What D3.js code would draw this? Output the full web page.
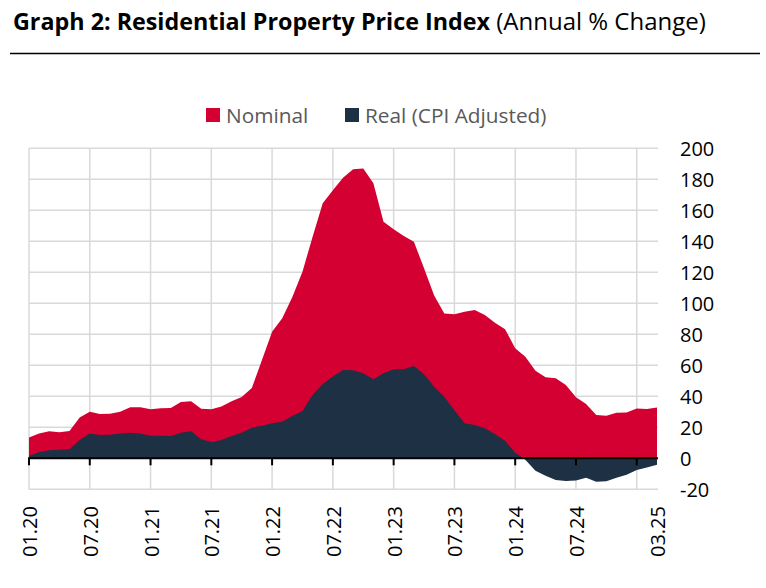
<!DOCTYPE html>
<html>
<head>
<meta charset="utf-8">
<script src="https://cdn.jsdelivr.net/npm/d3@7"></script>
<style>
  html, body { margin: 0; padding: 0; background: #fff; }
  svg { display: block; }
  text { font-family: "Open Sans", "Noto Sans", sans-serif; }
</style>
</head>
<body>
<div id="chart"></div>
<script>
// Monthly observations, 01.20 .. 03.25
const months = [
    "01.20","02.20","03.20","04.20","05.20","06.20","07.20","08.20","09.20","10.20","11.20","12.20",
    "01.21","02.21","03.21","04.21","05.21","06.21","07.21","08.21","09.21","10.21","11.21","12.21",
    "01.22","02.22","03.22","04.22","05.22","06.22","07.22","08.22","09.22","10.22","11.22","12.22",
    "01.23","02.23","03.23","04.23","05.23","06.23","07.23","08.23","09.23","10.23","11.23","12.23",
    "01.24","02.24","03.24","04.24","05.24","06.24","07.24","08.24","09.24","10.24","11.24","12.24",
    "01.25","02.25","03.25"
];

const nominal = [
    13.5, 16, 17.4, 16.8, 17.6, 26.4, 30, 28.6, 28.8, 30, 33, 33,
    31.6, 32.3, 32.5, 36.3, 36.8, 31.9, 31.6, 33.5, 36.8, 39.6, 45.3, 63.4,
    81.7, 90.3, 104, 120.4, 143, 164.5, 173, 181, 186.5, 187, 177.4, 152.6,
    147.7, 143.4, 139.7, 122.6, 105, 93.5, 92.9, 94.6, 95.7, 92.5, 87.5, 83.2,
    71, 65.5, 56.5, 52.3, 51.6, 47.3, 39.4, 35, 27.9, 27.5, 29.4, 29.6,
    32.2, 31.8, 32.7
];

const real = [
    1.5, 4, 5.2, 5.5, 5.8, 11.8, 16, 15, 15.2, 16, 16.5, 16,
    14.6, 14.6, 14.4, 16.5, 17.4, 12.3, 10.5, 11.8, 14.4, 16.5, 19.7, 21,
    22.6, 23.6, 27.3, 30.5, 40.8, 48, 52.7, 57, 56.8, 54.8, 51, 54.8,
    57.4, 57.4, 59.5, 54.2, 46.2, 39.7, 31, 22.6, 21.5, 19.4, 15.7, 11.4,
    3.6, -1, -8, -11.2, -14, -14.6, -14.4, -12.5, -15.1, -14.8, -12.5, -10.6,
    -7.5, -6, -4.1
];

const gridMonths = ["01.20","07.20","01.21","07.21","01.22","07.22","01.23","07.23","01.24","07.24","01.25"];
const labelMonths = ["01.20","07.20","01.21","07.21","01.22","07.22","01.23","07.23","01.24","07.24","03.25"];
const yTicks = [-20, 0, 20, 40, 60, 80, 100, 120, 140, 160, 180, 200];

const seriesNames = ["Nominal", "Real (CPI Adjusted)"];
const seriesColors = ["#d50032", "#1d3044"];

const width = 766;
const height = 588;
const marginLeft = 29;
const marginRight = 109;
const yTop = 148.3;
const yBottom = 489.3;

const svg = d3.select("#chart")
    .append("svg")
    .attr("width", width)
    .attr("height", height)
    .attr("viewBox", [0, 0, width, height]);

// Title and rule.
const title = svg.append("text")
    .attr("x", 13)
    .attr("y", 29.5)
    .attr("fill", "#000");
title.append("tspan").attr("font-weight", "bold").attr("font-size", 23.3).text("Graph 2: Residential Property Price Index");
title.append("tspan").attr("font-size", 24).text(" (Annual % Change)");

svg.append("line")
    .attr("x1", 10).attr("x2", 760)
    .attr("y1", 53.5).attr("y2", 53.5)
    .attr("stroke", "#000")
    .attr("stroke-width", 1.5);

// Scales.
const x = d3.scalePoint(months, [marginLeft, width - marginRight]);
const y = d3.scaleLinear([-20, 200], [yBottom, yTop]);

// Gridlines.
const grid = svg.append("g")
    .attr("stroke", "#d9d9d9")
    .attr("stroke-width", 1.5);
grid.selectAll(".h")
    .data(yTicks.filter(d => d !== 0))
    .join("line")
        .attr("x1", marginLeft).attr("x2", x("03.25") + 1)
        .attr("y1", d => y(d)).attr("y2", d => y(d));
grid.selectAll(".v")
    .data(gridMonths)
    .join("line")
        .attr("x1", d => x(d)).attr("x2", d => x(d))
        .attr("y1", yTop).attr("y2", yBottom);

// Areas.
const area = values => d3.area()
    .x((d, i) => x(months[i]))
    .y0(y(0))
    .y1(d => y(d))(values);

svg.append("path")
    .attr("d", area(nominal))
    .attr("fill", seriesColors[0]);
svg.append("path")
    .attr("d", area(real))
    .attr("fill", seriesColors[1]);

// Zero axis with ticks.
svg.append("line")
    .attr("x1", marginLeft - 1).attr("x2", x("03.25") + 1)
    .attr("y1", y(0)).attr("y2", y(0))
    .attr("stroke", "#000")
    .attr("stroke-width", 2);
svg.append("g")
    .selectAll("line")
    .data(gridMonths)
    .join("line")
        .attr("x1", d => x(d)).attr("x2", d => x(d))
        .attr("y1", y(0)).attr("y2", y(0) + 7)
        .attr("stroke", "#000")
        .attr("stroke-width", 2);

// Y labels on the right.
svg.append("g")
    .attr("font-size", 20)
    .attr("fill", "#000")
    .selectAll("text")
    .data(yTicks)
    .join("text")
        .attr("x", 680)
        .attr("y", d => y(d))
        .attr("dy", "0.36em")
        .text(d => d);

// X labels, rotated.
svg.append("g")
    .attr("font-size", 20)
    .attr("fill", "#000")
    .selectAll("text")
    .data(labelMonths)
    .join("text")
        .attr("transform", d => `translate(${x(d) + 8},557) rotate(-90)`)
        .text(d => d);

// Legend.
const legend = svg.append("g")
    .attr("font-size", 20.8)
    .attr("fill", "#595959");
const legendX = [206, 345];
seriesNames.forEach((name, i) => {
    legend.append("rect")
        .attr("x", legendX[i]).attr("y", 108)
        .attr("width", 14).attr("height", 14)
        .attr("fill", seriesColors[i]);
    legend.append("text")
        .attr("x", legendX[i] + 20)
        .attr("y", 122.5)
        .text(name);
});
</script>
</body>
</html>
